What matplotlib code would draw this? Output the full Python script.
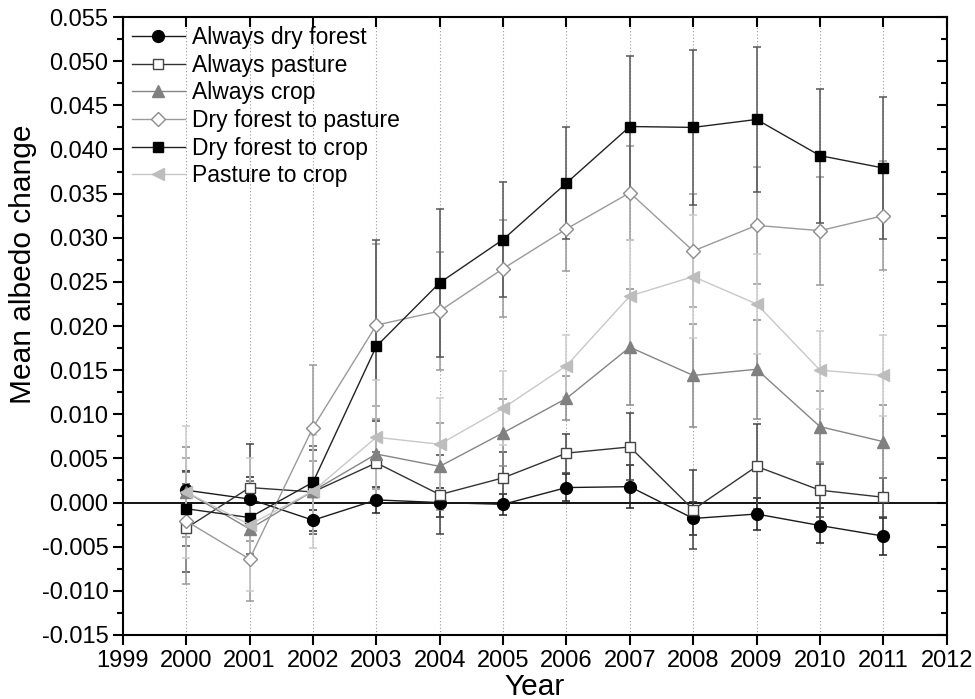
import numpy as np
import matplotlib.pyplot as plt
from matplotlib.ticker import MultipleLocator, FormatStrFormatter

plt.rcParams['font.family'] = ['Liberation Sans', 'DejaVu Sans']
plt.rcParams['axes.unicode_minus'] = False

years = np.arange(2000, 2012)

# mean albedo change per land-use class, with error bars
always_dry_forest = [0.0014, 0.0004, -0.0020, 0.0003, 0.0000, -0.0002, 0.0017, 0.0018, -0.0018, -0.0013, -0.0026, -0.0038]
always_dry_forest_err = [0.0022, 0.0025, 0.0012, 0.0015, 0.0016, 0.0012, 0.0015, 0.0024, 0.0019, 0.0018, 0.0020, 0.0021]

always_pasture = [-0.0029, 0.0017, 0.0012, 0.0045, 0.0009, 0.0028, 0.0056, 0.0063, -0.0008, 0.0041, 0.0014, 0.0006]
always_pasture_err = [0.0050, 0.0049, 0.0048, 0.0047, 0.0045, 0.0029, 0.0022, 0.0038, 0.0045, 0.0048, 0.0030, 0.0022]

always_crop = [0.0012, -0.0030, 0.0013, 0.0055, 0.0041, 0.0079, 0.0118, 0.0176, 0.0144, 0.0151, 0.0086, 0.0069]
always_crop_err = [0.0051, 0.0014, 0.0034, 0.0040, 0.0049, 0.0038, 0.0025, 0.0066, 0.0058, 0.0056, 0.0040, 0.0041]

forest_to_pasture = [-0.0021, -0.0064, 0.0085, 0.0201, 0.0217, 0.0265, 0.0310, 0.0351, 0.0285, 0.0314, 0.0308, 0.0325]
forest_to_pasture_err = [0.0071, 0.0047, 0.0071, 0.0092, 0.0067, 0.0055, 0.0048, 0.0053, 0.0064, 0.0066, 0.0061, 0.0062]

forest_to_crop = [-0.0007, -0.0017, 0.0023, 0.0177, 0.0249, 0.0298, 0.0362, 0.0426, 0.0425, 0.0434, 0.0393, 0.0379]
forest_to_crop_err = [0.0042, 0.0041, 0.0041, 0.0120, 0.0084, 0.0065, 0.0063, 0.0080, 0.0088, 0.0082, 0.0076, 0.0080]

pasture_to_crop = [0.0012, -0.0025, 0.0013, 0.0074, 0.0066, 0.0107, 0.0155, 0.0234, 0.0256, 0.0225, 0.0150, 0.0144]
pasture_to_crop_err = [0.0075, 0.0075, 0.0064, 0.0065, 0.0053, 0.0042, 0.0035, 0.0063, 0.0070, 0.0057, 0.0044, 0.0046]

fig = plt.figure(figsize=(9.75, 6.99), dpi=100)
ax = fig.add_axes([0.126, 0.0916, 0.845, 0.884])

# (label, values, errors, line colour, marker, face, edge, errbar colour, size)
series = [
    ('Always dry forest', always_dry_forest, always_dry_forest_err, '#1a1a1a', 'o', 'black', 'black', '#222222', 8.5),
    ('Always pasture', always_pasture, always_pasture_err, '#333333', 's', 'white', '#444444', '#444444', 7.5),
    ('Always crop', always_crop, always_crop_err, '#858585', '^', '#808080', '#808080', '#8a8a8a', 9),
    ('Dry forest to pasture', forest_to_pasture, forest_to_pasture_err, '#9a9a9a', 'D', 'white', '#8c8c8c', '#9a9a9a', 7.5),
    ('Dry forest to crop', forest_to_crop, forest_to_crop_err, '#222222', 's', 'black', 'black', '#555555', 7.5),
    ('Pasture to crop', pasture_to_crop, pasture_to_crop_err, '#c8c8c8', '<', '#bdbdbd', '#bdbdbd', '#cccccc', 9),
]

for x in years:
    ax.axvline(x, color='#999999', linestyle=(0, (1, 2)), linewidth=0.8, zorder=0)
ax.axhline(0, color='black', linewidth=1.3, zorder=1)

for label, vals, errs, lc, mk, fc, ec, errc, ms in series:
    ax.errorbar(years, vals, yerr=errs, fmt='none', ecolor=errc, elinewidth=1.1,
                capsize=3.2, capthick=1.1, zorder=2)
    ax.plot(years, vals, color=lc, linewidth=1.0, marker=mk, markersize=ms,
            markerfacecolor=fc, markeredgecolor=ec, markeredgewidth=1.0,
            label=label, zorder=3)

ax.set_xlim(1999, 2012)
ax.set_ylim(-0.015, 0.055)
ax.xaxis.set_major_locator(MultipleLocator(1))
ax.yaxis.set_major_locator(MultipleLocator(0.005))
ax.yaxis.set_minor_locator(MultipleLocator(0.0025))
ax.yaxis.set_major_formatter(FormatStrFormatter('%.3f'))

ax.tick_params(axis='both', which='major', labelsize=17, direction='out', length=7, width=1.5)
ax.tick_params(axis='y', which='minor', direction='out', length=4, width=1.5)
ax.tick_params(top=True, right=True, which='both')
# top and right ticks point inwards
for t in ax.xaxis.get_major_ticks():
    t.tick2line.set_marker(3)
for t in ax.yaxis.get_major_ticks() + ax.yaxis.get_minor_ticks():
    t.tick2line.set_marker(0)

for s in ax.spines.values():
    s.set_linewidth(1.5)

ax.set_xlabel('Year', fontsize=21.5, labelpad=1)
ax.set_ylabel('Mean albedo change', fontsize=21.5)
ax.yaxis.set_label_coords(-0.104, 0.60)

ax.legend(loc='upper left', frameon=False, fontsize=16.5, handlelength=2.3,
          handletextpad=0.3, labelspacing=0.2, borderaxespad=0.2, borderpad=0.2)

fig.savefig('out.png', dpi=100)
